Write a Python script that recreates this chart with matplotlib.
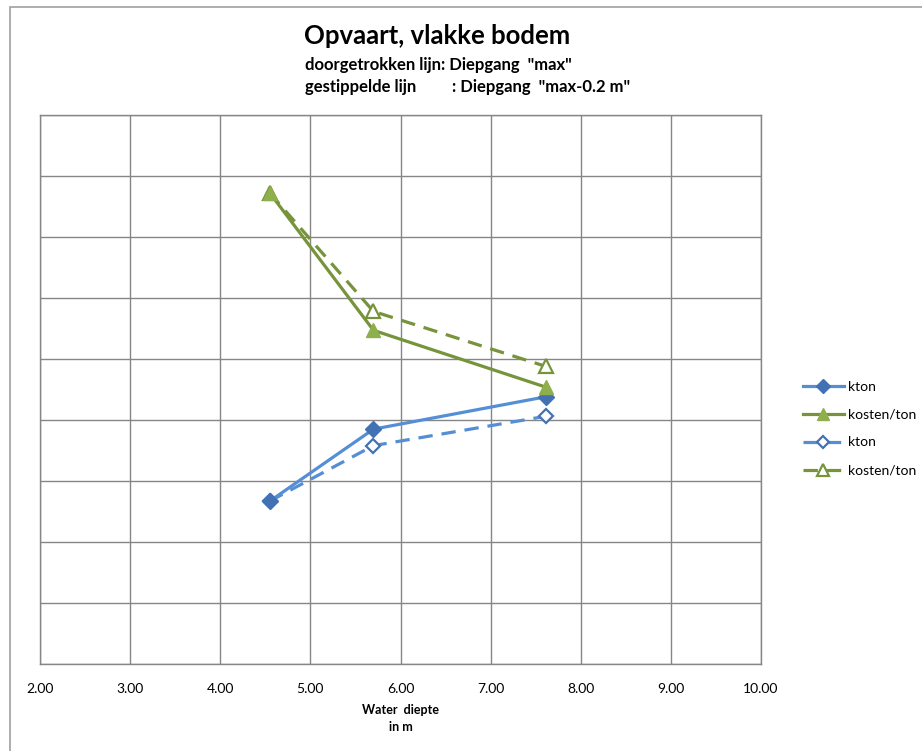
import matplotlib as mpl
import matplotlib.pyplot as plt
from matplotlib.patches import Rectangle

mpl.rcParams['font.family'] = ['Lato', 'DejaVu Sans']

# water depth (m)
depth = [4.55, 5.70, 7.61]

# solid = draught "max", dashed = draught "max-0.2 m"
kton_max = [2.67, 3.85, 4.38]
kosten_max = [7.72, 5.47, 4.54]
kton_min = [2.67, 3.58, 4.06]
kosten_min = [7.72, 5.78, 4.88]

xticks = [2, 3, 4, 5, 6, 7, 8, 9, 10]

blue = '#558ED5'
blue_mk = '#4372B4'
green = '#77933C'
green_mk = '#8DAF4C'
grid_c = '#868686'

fig = plt.figure(figsize=(9.22, 7.51), dpi=100)
# outer chart frame
fig.patches.append(Rectangle((9.5/922, -0.1), 1.2, 1 - 6.5/751 + 0.1, transform=fig.transFigure,
                             fill=False, edgecolor='#A0A0A0', lw=1.2))
ax = fig.add_axes([40/922, 1-664/751, 721/922, 549/751])

ax.plot(depth, kton_max, color=blue, lw=2.3, marker='D', ms=8,
        mfc=blue_mk, mec=blue_mk, label='kton', zorder=4)
ax.plot(depth, kosten_max, color=green, lw=2.3, marker='^', ms=10,
        mfc=green_mk, mec=green_mk, label='kosten/ton', zorder=4)
ax.plot(depth, kton_min, color=blue, lw=2.3, ls=(0, (4.5, 2.8)), marker='D', ms=7.5,
        mfc='white', mec=blue_mk, mew=1.6, label='kton', zorder=3)
ax.plot(depth, kosten_min, color=green, lw=2.3, ls=(0, (4.5, 2.8)), marker='^', ms=10,
        mfc='white', mec=green, mew=1.6, label='kosten/ton', zorder=3)

ax.set_xlim(2, 10)
ax.set_ylim(0, 9)
ax.set_xticks(xticks)
ax.set_xticklabels(["%.2f" % t for t in xticks], fontsize=10)
ax.set_yticks(range(10))
ax.set_yticklabels([])
ax.tick_params(length=0, pad=14)
ax.grid(True, color=grid_c, lw=1)
ax.set_axisbelow(True)
for s in ax.spines.values():
    s.set_color(grid_c)
    s.set_linewidth(1)

ax.set_xlabel("Water  diepte\nin m", fontsize=9, fontweight='bold', labelpad=6, linespacing=1.5)

fig.text(437/922, 1-36/751, "Opvaart, vlakke bodem", fontsize=18.5, fontweight='bold',
         ha='center', va='center')
fig.text(305/922, 1-65/751, 'doorgetrokken lijn: Diepgang  "max"', fontsize=12,
         fontweight='bold', ha='left', va='center')
fig.text(305/922, 1-87/751, 'gestippelde lijn', fontsize=12,
         fontweight='bold', ha='left', va='center')
fig.text(452/922, 1-87/751, ': Diepgang  "max-0.2 m"', fontsize=12,
         fontweight='bold', ha='left', va='center')

ax.legend(loc='upper left', bbox_to_anchor=(797/922, 1-375/751), bbox_transform=fig.transFigure,
          frameon=False, fontsize=10, handlelength=3.0, handletextpad=0.3, labelspacing=1.15,
          borderaxespad=0, markerscale=0.85)

fig.savefig('out.png', dpi=100)
